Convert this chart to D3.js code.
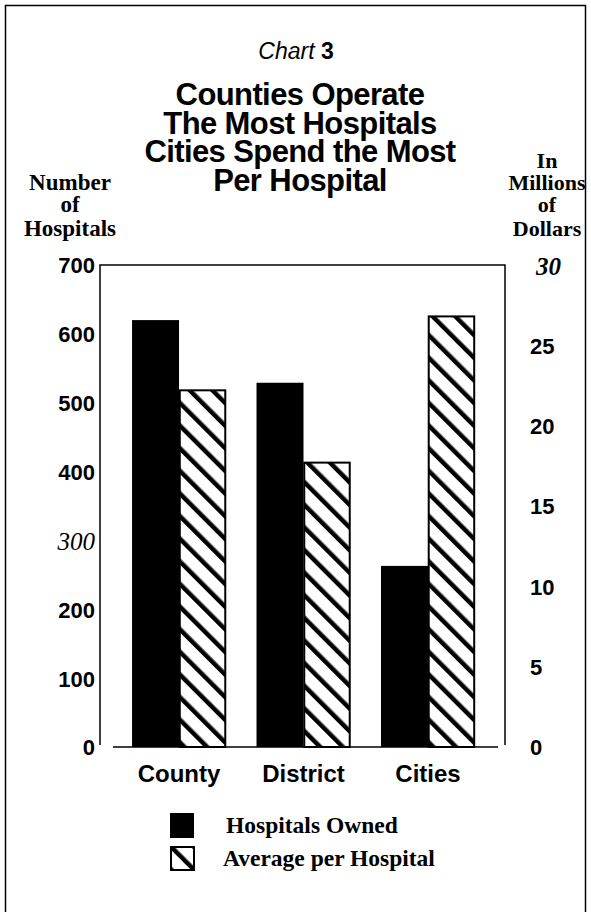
<!DOCTYPE html>
<html>
<head>
<meta charset="utf-8">
<script src="https://cdn.jsdelivr.net/npm/d3@7"></script>
<style>
  body { margin: 0; background: #fff; }
  svg { display: block; }
</style>
</head>
<body>
<svg id="chart" width="591" height="912"></svg>
<script>
// data
const categories = ["County", "District", "Cities"];
const hospitalsOwned = [620, 529, 263];        // number of hospitals, left axis
const averagePerHospital = [22.2, 17.7, 26.8]; // millions of dollars, right axis
const leftTicks = [0, 100, 200, 300, 400, 500, 600, 700];
const rightTicks = [0, 5, 10, 15, 20, 25, 30];
const titleLines = ["Counties Operate", "The Most Hospitals", "Cities Spend the Most", "Per Hospital"];
const legendLabels = ["Hospitals Owned", "Average per Hospital"];

const svg = d3.select("#chart");
const sans = "'Liberation Sans', Arial, sans-serif";
const serif = "'Liberation Serif', 'Times New Roman', serif";

const plot = {left: 100, right: 505, top: 265, bottom: 747};

// hatch pattern, stripes running top-left to bottom-right
const defs = svg.append("defs");
defs.append("pattern")
    .attr("id", "hatch")
    .attr("patternUnits", "userSpaceOnUse")
    .attr("width", 16).attr("height", 16)
    .attr("patternTransform", "rotate(-45)")
  .append("rect")
    .attr("x", 0).attr("y", 0)
    .attr("width", 4.5).attr("height", 16)
    .attr("fill", "#000");

// outer border
svg.append("rect")
    .attr("x", 5.5).attr("y", 5.5)
    .attr("width", 580).attr("height", 930)
    .attr("fill", "none").attr("stroke", "#000").attr("stroke-width", 1.5);

// titles
svg.append("text")
    .attr("x", 296).attr("y", 59)
    .attr("text-anchor", "middle")
    .style("font-family", sans).style("font-size", "23px")
    .call(t => {
        t.append("tspan").style("font-style", "italic").text("Chart ");
        t.append("tspan").style("font-weight", "bold").text("3");
    });

svg.selectAll(".title")
    .data(titleLines)
    .enter().append("text")
    .attr("class", "title")
    .attr("x", 300)
    .attr("y", (d, i) => 105 + i * 28.7)
    .attr("text-anchor", "middle")
    .style("font-family", sans).style("font-size", "31px").style("font-weight", "bold")
    .style("letter-spacing", "-0.6px")
    .text(d => d);

// axis titles
const axisTitle = function(lines, x, ys, size){
    svg.append("g").selectAll("text")
        .data(lines)
        .enter().append("text")
        .attr("x", x)
        .attr("y", (d, i) => ys[i])
        .attr("text-anchor", "middle")
        .style("font-family", serif).style("font-size", size).style("font-weight", "bold")
        .text(d => d);
};
axisTitle(["Number", "of", "Hospitals"], 70, [190, 212, 236], "23px");
axisTitle(["In", "Millions", "of", "Dollars"], 547, [168, 190, 212, 236], "22px");

// scales
let xScale = d3.scaleBand()
    .domain(categories)
    .range([113, 494])
    .paddingInner(0.245)
    .paddingOuter(0.153);

let xInner = d3.scaleBand()
    .domain(["owned", "avg"])
    .range([0, xScale.bandwidth()]);

let yLeft = d3.scaleLinear().domain([0, 700]).range([plot.bottom, plot.top]);
let yRight = d3.scaleLinear().domain([0, 30]).range([plot.bottom, plot.top]);

// frame
const frame = svg.append("g").attr("fill", "none").attr("stroke", "#000").attr("stroke-width", 1.5);
frame.append("path")
    .attr("d", `M${plot.left},${plot.bottom - 2}V${plot.top}H${plot.right}V${plot.bottom - 2}`);
frame.append("line")
    .attr("x1", 113).attr("x2", 498)
    .attr("y1", plot.bottom).attr("y2", plot.bottom);

// bars
const records = categories.map((c, i) => ({cat: c, owned: hospitalsOwned[i], avg: averagePerHospital[i]}));

svg.selectAll(".owned")
    .data(records)
    .enter().append("rect")
    .attr("class", "owned")
    .attr("x", d => xScale(d.cat) + xInner("owned"))
    .attr("y", d => yLeft(d.owned))
    .attr("width", xInner.bandwidth())
    .attr("height", d => yLeft(0) - yLeft(d.owned))
    .attr("fill", "#000");

svg.selectAll(".avg")
    .data(records)
    .enter().append("rect")
    .attr("class", "avg")
    .attr("x", d => xScale(d.cat) + xInner("avg") + 0.75)
    .attr("y", d => yRight(d.avg))
    .attr("width", xInner.bandwidth() - 1.5)
    .attr("height", d => yRight(0) - yRight(d.avg))
    .attr("fill", "url(#hatch)")
    .attr("stroke", "#000").attr("stroke-width", 2);

// left axis
let yAxisL = d3.axisLeft(yLeft).tickValues(leftTicks).tickSize(0).tickPadding(0);
svg.append("g")
    .attr("transform", "translate(95,0)")
    .call(yAxisL)
    .call(g => g.select(".domain").remove())
    .call(g => g.selectAll("text")
        .attr("dy", "0.36em")
        .attr("fill", "#000")
        .style("font-family", d => d === 300 ? serif : sans)
        .style("font-size", d => d === 300 ? "25px" : "22px")
        .style("font-weight", d => d === 300 ? "normal" : "bold")
        .style("font-style", d => d === 300 ? "italic" : "normal"));

// right axis
let yAxisR = d3.axisRight(yRight).tickValues(rightTicks).tickSize(0).tickPadding(0);
svg.append("g")
    .attr("transform", "translate(530,0)")
    .call(yAxisR)
    .call(g => g.select(".domain").remove())
    .call(g => g.selectAll("text")
        .attr("dy", "0.36em")
        .attr("x", d => d === 30 ? 6 : 0)
        .attr("fill", "#000")
        .style("font-family", d => d === 30 ? serif : sans)
        .style("font-size", d => d === 30 ? "25px" : "22px")
        .style("font-weight", "bold")
        .style("font-style", d => d === 30 ? "italic" : "normal"));

// category axis
let xAxis = d3.axisBottom(xScale).tickSize(0).tickPadding(0);
svg.append("g")
    .attr("transform", `translate(0,${plot.bottom})`)
    .call(xAxis)
    .call(g => g.select(".domain").remove())
    .call(g => g.selectAll("text")
        .attr("y", 35).attr("dy", 0)
        .attr("fill", "#000")
        .style("font-family", sans).style("font-size", "24px").style("font-weight", "bold"));

// legend
const legend = svg.append("g");
legend.append("rect")
    .attr("x", 170).attr("y", 813).attr("width", 24).attr("height", 25)
    .attr("fill", "#000");
legend.append("rect")
    .attr("x", 171).attr("y", 847).attr("width", 23).attr("height", 23)
    .attr("fill", "url(#hatch)").attr("stroke", "#000").attr("stroke-width", 2);
legend.selectAll("text")
    .data(legendLabels)
    .enter().append("text")
    .attr("x", (d, i) => i === 0 ? 226 : 223)
    .attr("y", (d, i) => i === 0 ? 833 : 866)
    .style("font-family", serif).style("font-size", "23.5px").style("font-weight", "bold")
    .text(d => d);
</script>
</body>
</html>
